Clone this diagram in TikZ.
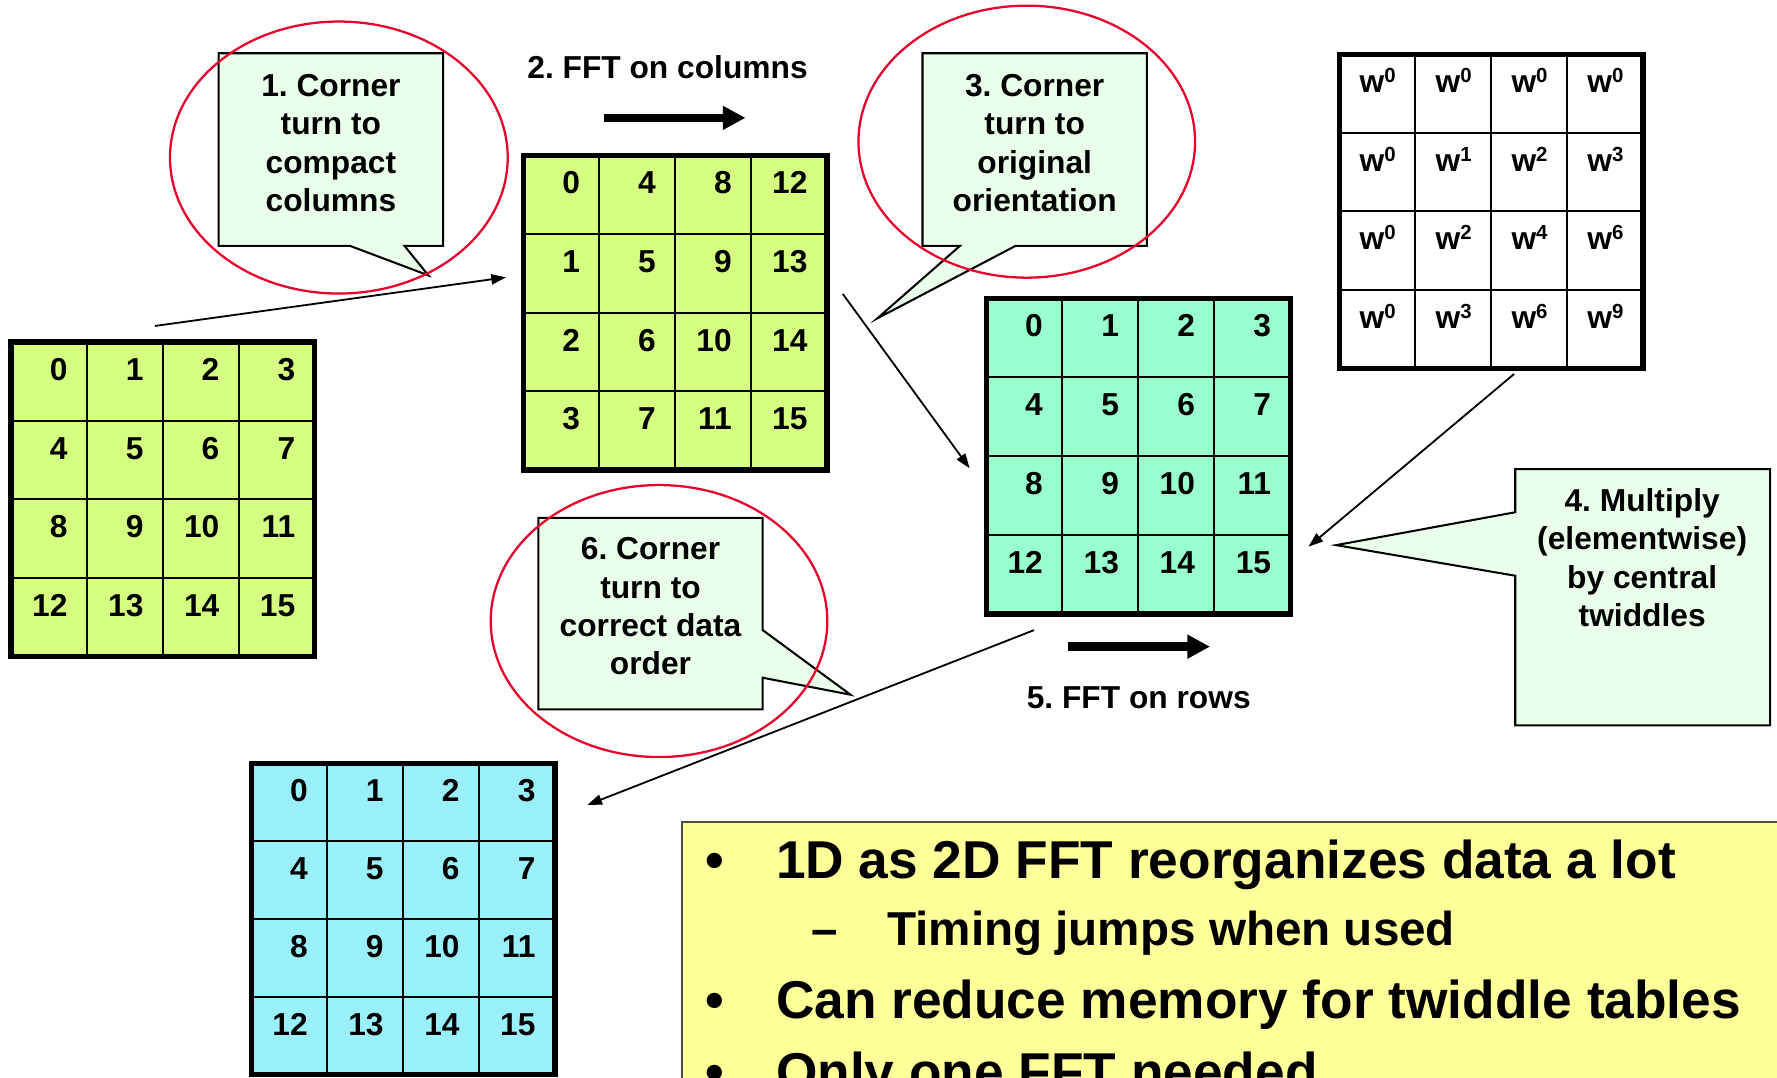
\documentclass[tikz,border=0pt]{standalone}
\usepackage{fontspec}
\setmainfont{Liberation Sans}
\usetikzlibrary{arrows.meta,shapes.geometric}
\frenchspacing

\definecolor{leaf}{HTML}{D4FF80}
\definecolor{mint}{HTML}{99FFCC}
\definecolor{sky}{HTML}{99F0FA}
\definecolor{notefill}{HTML}{EAFFEA}
\definecolor{memo}{HTML}{FFFF99}
\definecolor{ring}{HTML}{E6002A}

% twiddle factor with raised exponent
\newcommand\tw[1]{w\raisebox{9pt}{\fontsize{18}{18}\selectfont #1}}

\tikzset{
  gridline/.style={line width=1.8pt},
  gridframe/.style={line width=4.5pt},
  cellnum/.style={anchor=base east, inner sep=0pt, font=\bfseries\fontsize{28}{28}\selectfont},
  note/.style={fill=notefill, draw=black, line width=1.8pt},
  % anchored at the baseline of the last line
  notetext/.style={anchor=base, align=center, inner sep=0pt, font=\bfseries\fontsize{28}{33.8}\selectfont},
  steplabel/.style={inner sep=0pt, font=\bfseries\fontsize{28}{28}\selectfont},
  ringmark/.style={ellipse, draw=ring, line width=2pt, inner sep=0pt},
  link/.style={line width=1.6pt, -{Triangle[length=13pt,width=9pt]}},
  sweep/.style={line width=7.4pt, -{Triangle[length=20pt,width=20pt]}},
  memobox/.style={fill=memo, draw=black!70, line width=1.5pt},
  bigtext/.style={anchor=base west, inner sep=0pt, font=\bfseries\fontsize{47}{47}\selectfont},
  subtext/.style={anchor=base west, inner sep=0pt, font=\bfseries\fontsize{42}{42}\selectfont},
}

% 4x4 grid: name, left, top, right, bottom, fill, 16 labels (row by row)
\newcommand\numgrid[7]{%
  \pgfmathsetmacro\gw{(#4-#2)/4}%
  \pgfmathsetmacro\gh{(#5-#3)/4}%
  \fill[#6] (#2,#3) rectangle (#4,#5);
  \foreach \k in {1,2,3} {
    \draw[gridline] ({#2+\k*\gw},#3) -- ({#2+\k*\gw},#5);
    \draw[gridline] (#2,{#3+\k*\gh}) -- (#4,{#3+\k*\gh});
  }
  \draw[gridframe] (#2,#3) rectangle (#4,#5);
  \foreach \lab [count=\i from 0] in {#7} {
    \pgfmathtruncatemacro\cc{mod(\i,4)}%
    \pgfmathtruncatemacro\rr{\i/4}%
    \node[cellnum] (#1-\i) at ({#2+(\cc+1)*\gw-17},{#3+\rr*\gh+34}) {\lab};
  }
}

\begin{document}
\begin{tikzpicture}[x=1pt,y=-1pt]
\useasboundingbox (0,0) rectangle (1568,951);
\clip (0,0) rectangle (1568,951);

% data grids
\numgrid{gA}{9.75}{301.75}{277.75}{579.25}{leaf}{0,1,2,3,4,5,6,7,8,9,10,11,12,13,14,15}
\numgrid{gB}{462}{137}{729.75}{414.75}{leaf}{0,4,8,12,1,5,9,13,2,6,10,14,3,7,11,15}
\numgrid{gC}{870.25}{263.25}{1138.75}{541.75}{mint}{0,1,2,3,4,5,6,7,8,9,10,11,12,13,14,15}
\numgrid{gD}{221.65}{673.45}{489.75}{948.25}{sky}{0,1,2,3,4,5,6,7,8,9,10,11,12,13,14,15}
% central twiddles
\numgrid{gT}{1181.75}{47.85}{1449.75}{325.15}{white}{\tw0,\tw0,\tw0,\tw0,\tw0,\tw1,\tw2,\tw3,\tw0,\tw2,\tw4,\tw6,\tw0,\tw3,\tw6,\tw9}

% callout boxes
\draw[note] (193,47) -- (391,47) -- (391,217) -- (357,217) -- (378,243) -- (309,217) -- (193,217) -- cycle;
\node[notetext] (c1) at (292,186.7) {1. Corner\\turn to\\compact\\columns};

\draw[note] (814,47) -- (1012,47) -- (1012,217) -- (896,217) -- (774,281) -- (847,217) -- (814,217) -- cycle;
\node[notetext] (c3) at (913,186.7) {3. Corner\\turn to\\original\\orientation};

\draw[note] (1337,414) -- (1562,414) -- (1562,640) -- (1337,640) -- (1337,508) -- (1179,481) -- (1337,452) -- cycle;
\node[notetext] (c4) at (1449,552.9) {4. Multiply\\(elementwise)\\by central\\twiddles};

\draw[note] (475,457) -- (673,457) -- (673,556) -- (750.5,613) -- (673,598) -- (673,626) -- (475,626) -- cycle;
\node[notetext] (c6) at (574,595.4) {6. Corner\\turn to\\correct data\\order};

% FFT sweeps
\node[steplabel, anchor=base] (l2) at (589,69) {2. FFT on columns};
\coordinate (s2a) at (532.6,104);
\coordinate (s2b) at (657.8,104);
\draw[sweep] (s2a) -- (s2b);

\node[steplabel, anchor=base west] (l5) at (905.8,625) {5. FFT on rows};
\coordinate (s5a) at (942,570.6);
\coordinate (s5b) at (1067.7,570.6);
\draw[sweep] (s5a) -- (s5b);

% data movement
\coordinate (fromA) at (136.8,287.6);
\coordinate (intoB) at (446.5,244.7);
\draw[link] (fromA) -- (intoB);
\coordinate (fromB) at (743.7,259.4);
\coordinate (intoC) at (855.6,413.2);
\draw[link] (fromB) -- (intoC);
\coordinate (fromT) at (1336,330);
\coordinate (twIn) at (1154.6,482.4);
\draw[link] (fromT) -- (twIn);
\coordinate (fromC) at (912.4,556);
\coordinate (intoD) at (518.2,710.3);
\draw[link] (fromC) -- (intoD);

% highlight rings
\node[ringmark, minimum width=298pt, minimum height=240pt] (r1) at (299,139) {};
\node[ringmark, minimum width=297pt, minimum height=240pt] (r3) at (906,125) {};
\node[ringmark, minimum width=297pt, minimum height=240pt] (r6) at (581.5,548) {};

% summary box
\draw[memobox] (602,725) rectangle (1600,1000);
\node[bigtext, anchor=base] (b1) at (630.5,775) {•};
\node[bigtext] (t1) at (684.6,775) {1D as 2D FFT reorganizes data a lot};
\node[subtext, anchor=base] (b2) at (728,834.4) {–};
\node[subtext] (t2) at (782.7,834.4) {Timing jumps when used};
\node[bigtext, anchor=base] (b3) at (630.5,898.6) {•};
\node[bigtext] (t3) at (684.6,898.6) {Can reduce memory for twiddle tables};
\node[bigtext, anchor=base] (b4) at (630.5,962) {•};
\node[bigtext] (t4) at (684.6,962) {Only one FFT needed};
\end{tikzpicture}
\end{document}
